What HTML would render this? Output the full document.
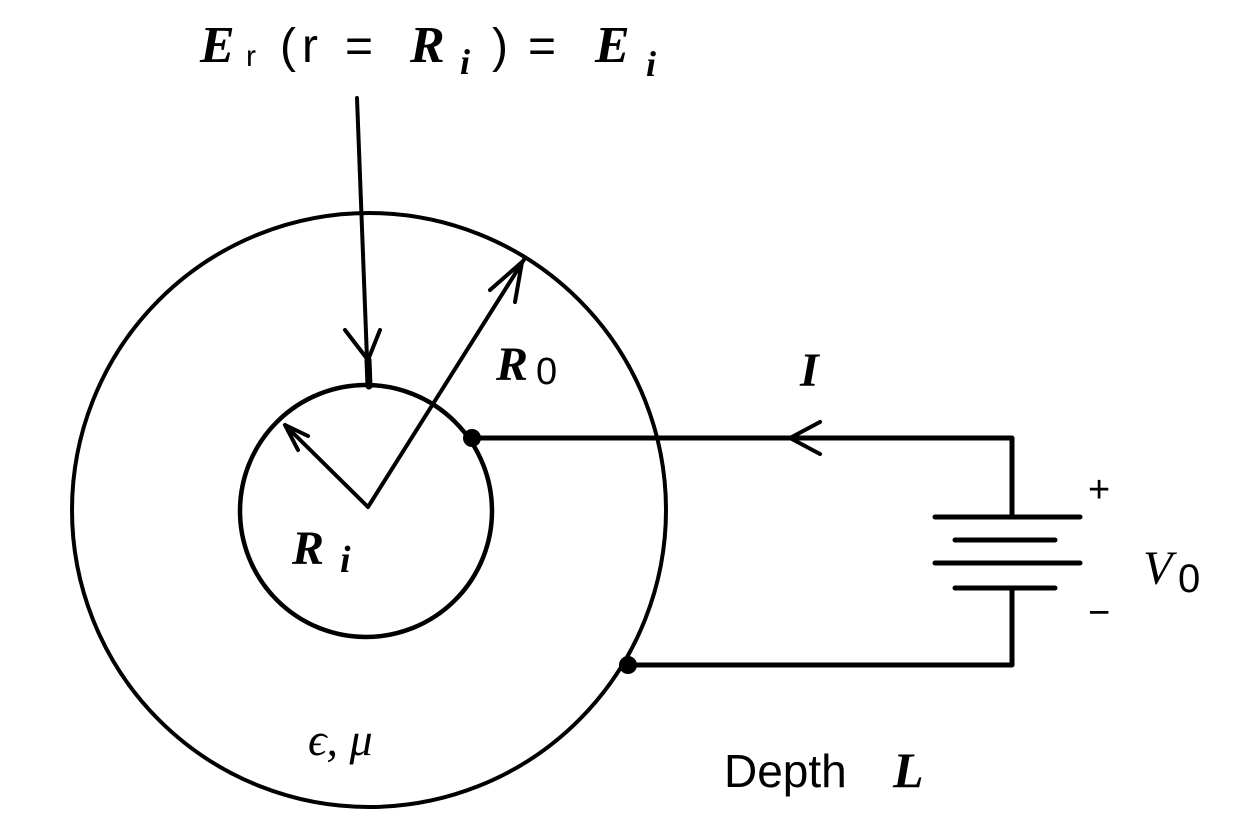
<!DOCTYPE html>
<html><head><style>
body{margin:0;background:#fff;}
svg text{fill:#000;}
.s{font-family:"Liberation Serif",serif;}
.a{font-family:"Liberation Sans",sans-serif;}
</style></head><body>
<svg width="1256" height="832" viewBox="0 0 1256 832" xmlns="http://www.w3.org/2000/svg">
<g fill="none" stroke="#000" stroke-linecap="round" stroke-linejoin="round">
<circle cx="369" cy="510" r="297" stroke-width="4"/>
<circle cx="366" cy="511" r="126" stroke-width="4.5"/>
<path d="M357 98 L368 385" stroke-width="4"/>
<path d="M345 330 L368 360 L380 330" stroke-width="4"/>
<path d="M368 360 L369 386" stroke-width="7"/>
<path d="M368 507 L285 425" stroke-width="4"/>
<path d="M298 450 L285 425 L308 436" stroke-width="4"/>
<path d="M368 507 L525 258" stroke-width="4"/>
<path d="M490 290 L522 262 L515 302" stroke-width="4"/>
<path d="M470 438 L1012 438 L1012 517" stroke-width="5"/>
<path d="M820 422 L790 438 L820 454" stroke-width="4"/>
<path d="M1012 588 L1012 665 L628 665" stroke-width="5"/>
<path d="M935 517 L1080 517 M955 540 L1055 540 M935 563 L1080 563 M955 588 L1055 588" stroke-width="5"/>
</g>
<circle cx="472" cy="438" r="9"/>
<circle cx="628" cy="665" r="9"/>
<text class="s" x="200" y="62" font-size="52" font-weight="bold" font-style="italic">E</text>
<text class="a" x="246" y="66" font-size="30">r</text>
<text class="a" x="280" y="62" font-size="48">(</text>
<text class="a" x="302" y="62" font-size="48">r</text>
<text class="a" x="345" y="62" font-size="48">=</text>
<text class="s" x="410" y="62" font-size="52" font-weight="bold" font-style="italic">R</text>
<text class="s" x="460" y="74" font-size="36" font-weight="bold" font-style="italic">i</text>
<text class="a" x="492" y="62" font-size="48">)</text>
<text class="a" x="528" y="62" font-size="48">=</text>
<text class="s" x="595" y="62" font-size="52" font-weight="bold" font-style="italic">E</text>
<text class="s" x="646" y="76" font-size="36" font-weight="bold" font-style="italic">i</text>
<text class="s" x="496" y="380" font-size="48" font-weight="bold" font-style="italic">R</text>
<text class="a" x="536" y="384" font-size="38">0</text>
<text class="s" x="292" y="564" font-size="48" font-weight="bold" font-style="italic">R</text>
<text class="s" x="340" y="572" font-size="38" font-weight="bold" font-style="italic">i</text>
<text class="s" x="800" y="386" font-size="48" font-weight="bold" font-style="italic">I</text>
<text class="a" x="1088" y="502" font-size="38">+</text>
<text class="a" x="1088" y="625" font-size="38">−</text>
<text class="s" x="1143" y="584" font-size="48" font-style="italic">V</text>
<text class="a" x="1178" y="592" font-size="40">0</text>
<text class="s" x="308" y="755" font-size="46" font-style="italic">ϵ, μ</text>
<text class="a" x="724" y="787" font-size="46">Depth</text>
<text class="s" x="893" y="787" font-size="50" font-style="italic" font-weight="bold">L</text>
</svg>
</body></html>
